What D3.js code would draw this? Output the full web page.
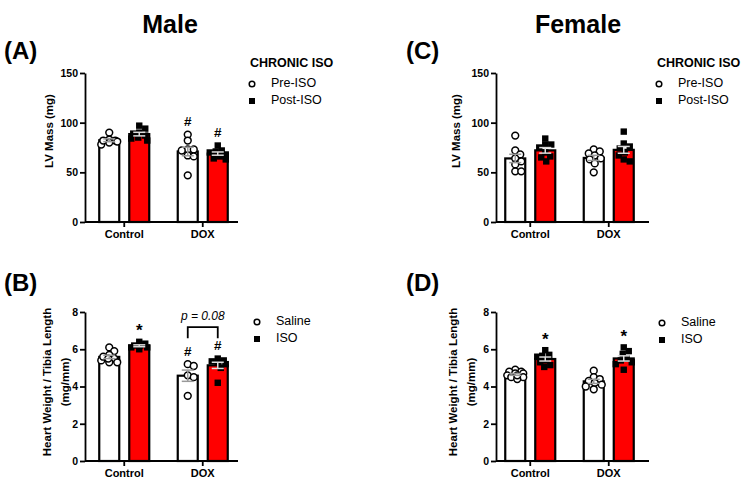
<!DOCTYPE html>
<html><head><meta charset="utf-8">
<script src="https://cdn.jsdelivr.net/npm/d3@7"></script>
<style>body{margin:0;background:#fff} svg{display:block} text{font-family:"Liberation Sans",Arial,sans-serif;fill:#000}</style>
</head><body><svg id="c" width="745" height="484"></svg>
<script>
// ---------------- data ----------------
const categories = ["Control", "DOX"];
const lvTicks = [0, 50, 100, 150];
const hwTicks = [0, 2, 4, 6, 8];
const lvLegend = ["Pre-ISO", "Post-ISO"];
const hwLegend = ["Saline", "ISO"];
// Male LV mass (mg): [Control, DOX]
const maleLvPre  = [[90, 83, 82, 81, 80, 78, 82], [88, 82, 73, 73, 72, 67, 66, 47]];
const maleLvPost = [[94, 97, 89, 87, 84, 82, 85, 90], [77, 72, 70, 68, 66, 64, 63, 71]];
// Female LV mass (mg)
const femaleLvPre  = [[87, 72, 68, 64, 61, 51, 51, 58], [73, 71, 69, 67, 64, 63, 59, 50]];
const femaleLvPost = [[84, 78, 78, 75, 70, 66, 65, 61], [91, 79, 76, 74, 70, 67, 63, 61]];
// Male heart weight / tibia length (mg/mm)
const maleHwPre  = [[6.1, 5.9, 5.7, 5.5, 5.4, 5.3, 5.3, 5.6, 5.5], [5.2, 5.1, 4.6, 4.5, 3.5]];
const maleHwPost = [[6.4, 6.3, 6.2, 6.2, 6.1, 6.1, 6.0], [5.5, 5.4, 5.35, 5.3, 5.2, 5.0, 4.2]];
// Female heart weight / tibia length (mg/mm)
const femaleHwPre  = [[4.9, 4.8, 4.8, 4.7, 4.7, 4.6, 4.5, 4.5, 4.4, 4.6], [4.85, 4.5, 4.4, 4.3, 4.2, 4.1, 3.85, 4.0]];
const femaleHwPost = [[5.95, 5.7, 5.65, 5.6, 5.4, 5.3, 5.15, 5.05], [6.1, 5.9, 5.75, 5.5, 5.4, 5.3, 5.2, 4.9]];
// significance marks: [category index, series index, symbol]
const maleLvMarks = [[1, 0, "#"], [1, 1, "#"]];
const maleHwMarks = [[0, 1, "*"], [1, 0, "#"], [1, 1, "#"]];
const femaleLvMarks = [];
const femaleHwMarks = [[0, 1, "*"], [1, 1, "*"]];
const maleHwBracketText = "p = 0.08";

// ---------------- layout ----------------
const svg = d3.select("#c");
const FONT = '"Liberation Sans",Arial,sans-serif';

svg.append("text").attr("x", 170).attr("y", 33).attr("text-anchor", "middle")
  .attr("font-size", 25).attr("font-weight", "bold").text("Male");
svg.append("text").attr("x", 578).attr("y", 33).attr("text-anchor", "middle")
  .attr("font-size", 25).attr("font-weight", "bold").text("Female");

const panels = [
  {tag: "(A)", tagX: 4, tagY: 59, pre: maleLvPre, post: maleLvPost, ticks: lvTicks, domain: [0, 150],
   axisX: 85, bandX: 85, yTop: 73, yBot: 222, ylab: ["LV Mass (mg)"], ylabX: [50], ylabY: 131,
   legend: lvLegend, legTitle: "CHRONIC ISO", legX: 252, legTitleY: 67, legY: 84, marks: maleLvMarks},
  {tag: "(B)", tagX: 4, tagY: 291, pre: maleHwPre, post: maleHwPost, ticks: hwTicks, domain: [0, 8],
   axisX: 85, bandX: 85, yTop: 312, yBot: 461, ylab: ["Heart Weight / Tibia Length", "(mg/mm)"], ylabX: [48, 66], ylabY: 382,
   legend: hwLegend, legTitle: null, legX: 257, legY: 322, marks: maleHwMarks, bracket: true},
  {tag: "(C)", tagX: 406, tagY: 59, pre: femaleLvPre, post: femaleLvPost, ticks: lvTicks, domain: [0, 150],
   axisX: 496, bandX: 491, yTop: 73, yBot: 222, ylab: ["LV Mass (mg)"], ylabX: [457], ylabY: 131,
   legend: lvLegend, legTitle: "CHRONIC ISO", legX: 659, legTitleY: 67, legY: 84, marks: femaleLvMarks},
  {tag: "(D)", tagX: 406, tagY: 291, pre: femaleHwPre, post: femaleHwPost, ticks: hwTicks, domain: [0, 8],
   axisX: 496, bandX: 491, yTop: 312, yBot: 461, ylab: ["Heart Weight / Tibia Length", "(mg/mm)"], ylabX: [454, 472], ylabY: 382,
   legend: hwLegend, legTitle: null, legX: 662, legY: 323, marks: femaleHwMarks}
];

const R = 3.4, SQ = 6.4;

function swarm(vals, y, maxOff) {
  const pts = vals.map(v => ({v, py: y(v), dx: 0}));
  const order = pts.slice().sort((a, b) => a.py - b.py);
  const placed = [];
  const cands = [0];
  for (let k = 1; k <= maxOff; k++) cands.push(k, -k);
  for (const p of order) {
    let best = 0, bestO = Infinity;
    for (const c of cands) {
      let o = 0;
      for (const q of placed) {
        const d = Math.hypot(c - q.dx, p.py - q.py);
        if (d < 1.75 * R) o += 1.75 * R - d;
      }
      if (o === 0) { best = c; bestO = 0; break; }
      if (o < bestO - 0.01) { bestO = o; best = c; }
    }
    p.dx = best; placed.push(p);
  }
  return pts;
}

panels.forEach(P => {
  const g = svg.append("g");
  g.append("text").attr("x", P.tagX).attr("y", P.tagY).attr("font-size", 24)
    .attr("font-weight", "bold").text(P.tag);

  const y = d3.scaleLinear().domain(P.domain).range([P.yBot, P.yTop]);
  const x0 = d3.scaleBand().domain(categories).range([P.bandX, P.bandX + 157]).padding(0);
  const x1 = d3.scaleBand().domain([0, 1]).range([-30, 30]).paddingInner(1 / 3).paddingOuter(1 / 6);

  // y axis
  const ya = d3.axisLeft(y).tickValues(P.ticks).tickSize(5).tickSizeOuter(0).tickPadding(2);
  const yg = g.append("g").attr("transform", `translate(${P.axisX},0)`).call(ya);
  yg.select(".domain").attr("stroke", "#000").attr("stroke-width", 1.8);
  yg.selectAll(".tick line").attr("stroke", "#000").attr("stroke-width", 1.8);
  yg.selectAll(".tick text").attr("font-size", 10.5).attr("font-weight", "bold")
    .attr("font-family", FONT).attr("fill", "#000");

  // x axis
  const xa = d3.axisBottom(x0).tickSize(5).tickSizeOuter(0).tickPadding(3);
  const xg = g.append("g").attr("transform", `translate(0,${P.yBot})`).call(xa);
  xg.select(".domain").remove();
  xg.append("line").attr("x1", P.axisX).attr("x2", P.axisX + 153).attr("y1", 0).attr("y2", 0)
    .attr("stroke", "#000").attr("stroke-width", 1.8);
  xg.selectAll(".tick line").attr("stroke", "#000").attr("stroke-width", 1.8);
  xg.selectAll(".tick text").attr("font-size", 11).attr("font-weight", "bold")
    .attr("font-family", FONT).attr("fill", "#000");

  // y label
  P.ylab.forEach((t, i) => {
    g.append("text").attr("transform", `translate(${P.ylabX[i]},${P.ylabY}) rotate(-90)`)
      .attr("text-anchor", "middle").attr("font-size", 11.5).attr("font-weight", "bold")
      .attr("dominant-baseline", "middle").text(t);
  });

  const series = [P.pre, P.post];
  const tops = {};
  // bars
  series.forEach((s, si) => {
    s.forEach((vals, ci) => {
      const cx = x0(categories[ci]) + x0.bandwidth() / 2;
      const m = d3.mean(vals);
      g.append("rect").attr("x", cx + x1(si)).attr("width", x1.bandwidth())
        .attr("y", y(m)).attr("height", y(0) - y(m))
        .attr("fill", si === 0 ? "#fff" : "#ff0000").attr("stroke", "#000").attr("stroke-width", 2.2);
    });
  });
  // points
  series.forEach((s, si) => {
    s.forEach((vals, ci) => {
      const cx = x0(categories[ci]) + x0.bandwidth() / 2 + x1(si) + x1.bandwidth() / 2;
      const pts = swarm(vals, y, 8);
      if (si === 0) {
        g.selectAll(null).data(pts).enter().append("circle")
          .attr("cx", d => cx + d.dx).attr("cy", d => d.py).attr("r", R)
          .attr("fill", "#fff").attr("stroke", "#000").attr("stroke-width", 1.5);
      } else {
        g.selectAll(null).data(pts).enter().append("rect")
          .attr("x", d => cx + d.dx - SQ / 2).attr("y", d => d.py - SQ / 2)
          .attr("width", SQ).attr("height", SQ).attr("fill", "#000");
      }
      tops[ci + "_" + si] = {cx, top: y(d3.max(vals)) - R};
      // error bar (SEM)
      const m = d3.mean(vals), sem = d3.deviation(vals) / Math.sqrt(vals.length);
      const eg = g.append("g").attr("stroke", si === 0 ? "#999" : "#ddd").attr("stroke-width", 1.5);
      eg.append("line").attr("x1", cx).attr("x2", cx).attr("y1", y(m - sem)).attr("y2", y(m + sem));
      [m - sem, m + sem].forEach(v => eg.append("line").attr("x1", cx - 6).attr("x2", cx + 6)
        .attr("y1", y(v)).attr("y2", y(v)));
    });
  });

  // marks
  P.marks.forEach(([ci, si, sym]) => {
    const t = tops[ci + "_" + si];
    g.append("text").attr("x", t.cx).attr("y", sym === "#" ? t.top - 5 : t.top - 2)
      .attr("text-anchor", "middle").attr("font-size", sym === "#" ? 13.5 : 17)
      .attr("font-weight", "bold").text(sym);
  });

  if (P.bracket) {
    const a = tops["1_0"], b = tops["1_1"];
    const yb = Math.min(a.top, b.top) - 17;
    g.append("path").attr("d", `M${a.cx},${yb}V${yb - 11}H${b.cx}V${yb}`)
      .attr("fill", "none").attr("stroke", "#000").attr("stroke-width", 1.8);
    g.append("text").attr("x", (a.cx + b.cx) / 2).attr("y", yb - 18).attr("text-anchor", "middle")
      .attr("font-size", 12).attr("font-style", "italic").text(maleHwBracketText);
  }

  // legend
  if (P.legTitle) {
    g.append("text").attr("x", P.legX - 2).attr("y", P.legTitleY).attr("font-size", 12.5)
      .attr("font-weight", "bold").text(P.legTitle);
  }
  P.legend.forEach((t, i) => {
    const ly = P.legY + i * 17;
    if (i === 0) g.append("circle").attr("cx", P.legX).attr("cy", ly).attr("r", 2.8)
      .attr("fill", "#fff").attr("stroke", "#000").attr("stroke-width", 1.5);
    else g.append("rect").attr("x", P.legX - 3).attr("y", ly - 3).attr("width", 6).attr("height", 6).attr("fill", "#000");
    g.append("text").attr("x", P.legX + 19).attr("y", ly).attr("dominant-baseline", "middle")
      .attr("font-size", 12.5).text(t);
  });
});
</script></body></html>
